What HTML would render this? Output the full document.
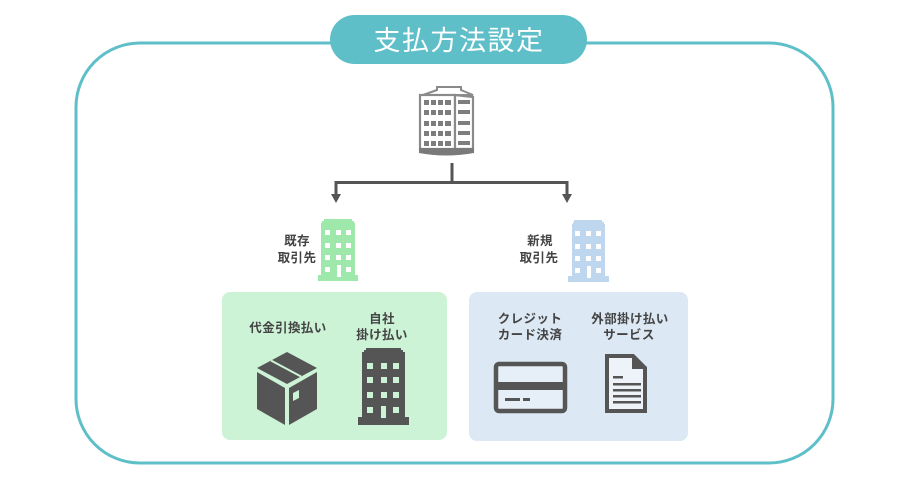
<!DOCTYPE html>
<html><head><meta charset="utf-8">
<style>
html,body{margin:0;padding:0;background:#fff;}
svg{display:block;}
text{font-family:"Liberation Sans","Noto Sans CJK JP",sans-serif;}
.lb{font-size:12.5px;font-weight:bold;fill:#444;letter-spacing:0.4px;}
</style></head>
<body>
<svg width="910" height="487" viewBox="0 0 910 487" xmlns="http://www.w3.org/2000/svg">
  <!-- outer frame -->
  <rect x="76" y="43" width="757" height="420" rx="64" ry="64" fill="none" stroke="#5fbfc8" stroke-width="3"/>
  <!-- title pill -->
  <rect x="330" y="15" width="257" height="49" rx="24.5" fill="#5fbfc8"/>
  <text x="459" y="50" text-anchor="middle" font-size="27" fill="#fff" letter-spacing="1.5">支払方法設定</text>

  <!-- top building -->
  <g>
    <path d="M423,95 L437,90 L437,87 L461,87 L461,90 L473,95 Z" fill="#fff" stroke="#8a8a8a" stroke-width="2"/>
    <rect x="420" y="95" width="35" height="54" fill="#fff" stroke="#8a8a8a" stroke-width="2.2"/>
    <path d="M455,95 L473,97 L473,149 L455,149 Z" fill="#fff" stroke="#8a8a8a" stroke-width="2.2"/>
    <g fill="#7d7d7d">
      <rect x="424" y="100" width="5" height="5"/><rect x="431" y="100" width="5" height="5"/><rect x="438" y="100" width="5" height="5"/><rect x="445" y="100" width="6" height="5"/>
      <rect x="424" y="110" width="5" height="5"/><rect x="431" y="110" width="5" height="5"/><rect x="438" y="110" width="5" height="5"/><rect x="445" y="110" width="6" height="5"/>
      <rect x="424" y="121" width="5" height="5"/><rect x="431" y="121" width="5" height="5"/><rect x="438" y="121" width="5" height="5"/><rect x="445" y="121" width="6" height="5"/>
      <rect x="424" y="131" width="5" height="5"/><rect x="431" y="131" width="5" height="5"/><rect x="438" y="131" width="5" height="5"/><rect x="445" y="131" width="6" height="5"/>
      <rect x="424" y="141" width="5" height="5"/><rect x="431" y="141" width="5" height="5"/><rect x="438" y="141" width="5" height="5"/><rect x="445" y="141" width="6" height="5"/>
      <rect x="458" y="100" width="12" height="4"/><rect x="458" y="110" width="12" height="4"/><rect x="458" y="121" width="12" height="4"/><rect x="458" y="131" width="12" height="4"/><rect x="458" y="141" width="12" height="4"/>
    </g>
    <path d="M419,148 L474,148 L474,153 Q446,158 419,153 Z" fill="#7a7a7a"/>
  </g>

  <!-- connectors -->
  <g stroke="#555" stroke-width="3" fill="none">
    <line x1="452" y1="163" x2="452" y2="183"/>
    <polyline points="336,196 336,182.5 567,182.5 567,196"/>
  </g>
  <path d="M331,194 L341,194 L336,203 Z" fill="#555"/>
  <path d="M562,194 L572,194 L567,203 Z" fill="#555"/>

  <!-- panels -->
  <rect x="222" y="292" width="225" height="148" rx="8" fill="#cdf3d6"/>
  <rect x="469" y="292" width="219" height="149" rx="8" fill="#dce8f4"/>

  <!-- green building -->
  <g fill="#9de8aa">
    <path d="M324,219 L352,219 L352,221 L354,221 L354,223 L355,223 L355,275 L358,275 L358,281 L318,281 L318,275 L321,275 L321,223 L322,223 L322,221 L324,221 Z"/>
  </g>
  <g fill="#fff">
    <rect x="325" y="230" width="5" height="5"/><rect x="336" y="230" width="5" height="5"/><rect x="346" y="230" width="5" height="5"/>
    <rect x="325" y="243" width="5" height="5"/><rect x="336" y="243" width="5" height="5"/><rect x="346" y="243" width="5" height="5"/>
    <rect x="325" y="255" width="5" height="5"/><rect x="336" y="255" width="5" height="5"/><rect x="346" y="255" width="5" height="5"/>
    <rect x="325" y="267" width="5" height="5"/><rect x="337" y="265" width="4" height="12"/><rect x="346" y="267" width="5" height="5"/>
  </g>
  <text class="lb" x="297" y="245" text-anchor="middle">既存</text>
  <text class="lb" x="297" y="262" text-anchor="middle">取引先</text>

  <!-- blue building -->
  <g fill="#bed6ee">
    <path d="M574,220 L602,220 L602,222 L604,222 L604,224 L605,224 L605,276 L609,276 L609,282 L568,282 L568,276 L572,276 L572,224 L573,224 L573,222 L574,222 Z"/>
  </g>
  <g fill="#fff">
    <rect x="575" y="231" width="5" height="5"/><rect x="586" y="231" width="5" height="5"/><rect x="596" y="231" width="5" height="5"/>
    <rect x="575" y="244" width="5" height="5"/><rect x="586" y="244" width="5" height="5"/><rect x="596" y="244" width="5" height="5"/>
    <rect x="575" y="256" width="5" height="5"/><rect x="586" y="256" width="5" height="5"/><rect x="596" y="256" width="5" height="5"/>
    <rect x="575" y="268" width="5" height="5"/><rect x="587" y="266" width="4" height="12"/><rect x="596" y="268" width="5" height="5"/>
  </g>
  <text class="lb" x="540" y="245" text-anchor="middle">新規</text>
  <text class="lb" x="539" y="262" text-anchor="middle">取引先</text>

  <!-- green panel labels -->
  <text class="lb" x="288" y="332" text-anchor="middle">代金引換払い</text>
  <text class="lb" x="382" y="323" text-anchor="middle">自社</text>
  <text class="lb" x="382" y="339" text-anchor="middle">掛け払い</text>

  <!-- blue panel labels -->
  <text class="lb" x="530" y="323" text-anchor="middle">クレジット</text>
  <text class="lb" x="530" y="339" text-anchor="middle">カード決済</text>
  <text class="lb" x="630" y="323" text-anchor="middle">外部掛け払い</text>
  <text class="lb" x="629" y="339" text-anchor="middle">サービス</text>

  <!-- box icon -->
  <g fill="#555">
    <path d="M287,352 L317,368 L287,384 L257,368 Z"/>
    <path d="M257,372 L285,388 L285,425 L257,409 Z"/>
    <path d="M289,388 L317,372 L317,409 L289,425 Z"/>
  </g>
  <line x1="271" y1="360.5" x2="301" y2="376.5" stroke="#cdf3d6" stroke-width="2"/>
  <path d="M293,393 L299,390 L299,398 L293,401 Z" fill="#cdf3d6"/>

  <!-- dark building -->
  <path d="M366,348 L401,348 L401,350 L403,350 L403,352 L405,352 L405,417 L409,417 L409,425 L358,425 L358,417 L362,417 L362,352 L364,352 L364,350 L366,350 Z" fill="#555"/>
  <g fill="#cdf3d6">
    <rect x="367" y="363" width="6" height="6"/><rect x="381" y="363" width="6" height="6"/><rect x="393" y="363" width="6" height="6"/>
    <rect x="367" y="377" width="6" height="6"/><rect x="381" y="377" width="6" height="6"/><rect x="393" y="377" width="6" height="6"/>
    <rect x="367" y="392" width="6" height="6"/><rect x="381" y="392" width="6" height="6"/><rect x="393" y="392" width="6" height="6"/>
    <rect x="367" y="407" width="6" height="6"/><rect x="381" y="406" width="5" height="12"/><rect x="393" y="407" width="6" height="6"/>
  </g>

  <!-- credit card -->
  <rect x="496" y="364" width="69" height="47" rx="3" fill="#e6eef7" stroke="#555" stroke-width="4.5"/>
  <rect x="494" y="382" width="73" height="8" fill="#555"/>
  <rect x="505" y="398" width="15" height="3" fill="#555"/>
  <rect x="523" y="398" width="7" height="3" fill="#555"/>

  <!-- document -->
  <path d="M607,356 L633,356 L645,368 L645,411 L607,411 Z" fill="#eef3f9" stroke="#555" stroke-width="4" stroke-linejoin="miter"/>
  <path d="M632,356 L632,369 L645,369 Z" fill="#555"/>
  <g fill="#555">
    <rect x="613" y="376" width="10" height="2.5"/>
    <rect x="613" y="383" width="28" height="2.5"/>
    <rect x="613" y="389" width="28" height="2.5"/>
    <rect x="613" y="395" width="28" height="2.5"/>
    <rect x="613" y="401" width="28" height="2.5"/>
  </g>
</svg>
</body></html>
